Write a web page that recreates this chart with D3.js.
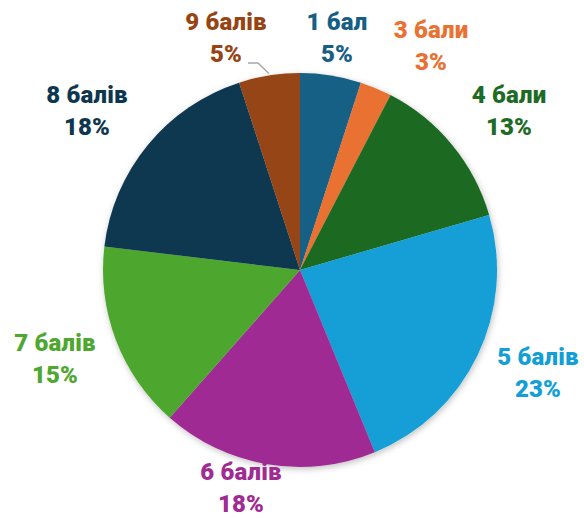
<!DOCTYPE html>
<html>
<head>
<meta charset="utf-8">
<script src="https://cdn.jsdelivr.net/npm/d3@7"></script>
<style>
  html, body { margin: 0; padding: 0; background: #fff; }
  svg { display: block; }
  text { font-family: Roboto, "Noto Sans", sans-serif; font-weight: 900; }
</style>
</head>
<body>
<svg id="chart" width="584" height="518"></svg>
<script>
// Score distribution (share of respondents, %)
const categories = ["1 бал", "3 бали", "4 бали", "5 балів", "6 балів", "7 балів", "8 балів", "9 балів"];
const shares = [5.0, 2.6, 12.9, 23.3, 17.7, 15.4, 18.1, 5.0];
const colors = ["#175e85", "#e97132", "#1d6b24", "#129fd6", "#a02b93", "#4ea72e", "#0e374f", "#964413"];
// Label anchor points (centre x, first-line baseline y)
const labelPos = [[337, 30], [431, 38], [509, 103], [538, 365], [241, 480], [55, 351], [87, 103], [226, 30]];

const svg = d3.select("#chart");
const cx = 300, cy = 270, r = 197;

const defs = svg.append("defs");
const f = defs.append("filter").attr("id", "shadow")
  .attr("x", "-20%").attr("y", "-20%").attr("width", "140%").attr("height", "140%");
f.append("feDropShadow").attr("dx", 1).attr("dy", 2).attr("stdDeviation", 3)
  .attr("flood-color", "#000").attr("flood-opacity", 0.25);

const data = categories.map((c, i) => ({ cat: c, value: shares[i], color: colors[i], pos: labelPos[i] }));

const pie = d3.pie().value(d => d.value).sort(null);
const arc = d3.arc().innerRadius(0).outerRadius(r);
const arcs = pie(data);

const g = svg.append("g").attr("transform", `translate(${cx},${cy})`);
g.append("g").attr("filter", "url(#shadow)")
  .selectAll("path").data(arcs).join("path")
  .attr("d", arc)
  .attr("fill", d => d.data.color);

// Leader line for the small "9 балів" slice
const nine = arcs[7];
const mid = (nine.startAngle + nine.endAngle) / 2;
const edge = [cx + Math.sin(mid) * (r + 2), cy - Math.cos(mid) * (r + 2)];
svg.append("polyline")
  .attr("points", `${248},${63} ${258},${63} ${edge[0]},${edge[1]}`)
  .attr("fill", "none").attr("stroke", "#a6a6a6").attr("stroke-width", 1.3);

const labels = svg.append("g").selectAll("text").data(data).join("text")
  .attr("text-anchor", "middle")
  .attr("font-size", 24)
  .attr("letter-spacing", 0.2)
  .attr("fill", d => d.color)
  .attr("x", d => d.pos[0])
  .attr("y", d => d.pos[1]);
labels.append("tspan").attr("x", d => d.pos[0]).text(d => d.cat);
labels.append("tspan").attr("x", d => d.pos[0]).attr("dy", 32)
  .text(d => Math.round(d.value) + "%");
</script>
</body>
</html>
